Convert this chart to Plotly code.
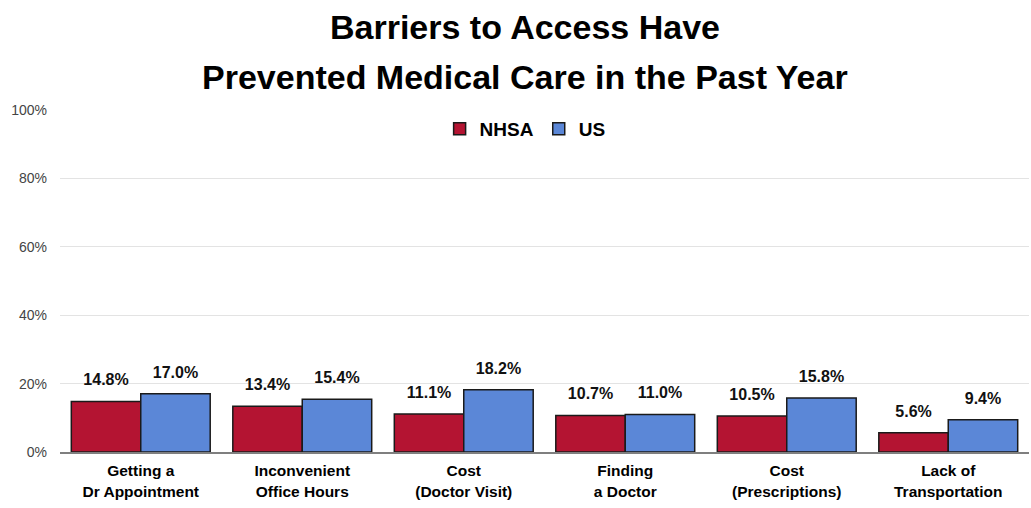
import plotly.graph_objects as go

categories = ["Getting a<br>Dr Appointment", "Inconvenient<br>Office Hours", "Cost<br>(Doctor Visit)",
              "Finding<br>a Doctor", "Cost<br>(Prescriptions)", "Lack of<br>Transportation"]
nhsa = [14.8, 13.4, 11.1, 10.7, 10.5, 5.6]
us = [17.0, 15.4, 18.2, 11.0, 15.8, 9.4]
tick_vals = [0, 20, 40, 60, 80, 100]
tick_text = ["0%", "20%", "40%", "60%", "80%", "100%"]
title_lines = ["Barriers to Access Have", "Prevented Medical Care in the Past Year"]

FONT = "Liberation Sans, Arial, sans-serif"
W, H = 1031, 508
ML, MR, MT, MB = 60, 2, 110, 56
PH = H - MT - MB
PW = W - ML - MR

fig = go.Figure()
series = [("NHSA", nhsa, "#B41432"), ("US", us, "#5B87D7")]
for name, vals, color in series:
    fig.add_trace(go.Bar(
        name=f"<b>{name}</b>", x=categories, y=vals, offsetgroup=name,
        marker=dict(color=color, line=dict(color="#1a1a1a", width=1.5)),
    ))
for name, vals, color in series:
    fig.add_trace(go.Scatter(
        x=categories, y=vals, offsetgroup=name, mode="markers+text",
        marker=dict(size=18, opacity=0, color=color),
        text=[f"<b>{v:.1f}%</b>" for v in vals], textposition="top center",
        textfont=dict(family=FONT, size=16, color="#111"),
        showlegend=False, hoverinfo="skip", cliponaxis=False,
    ))

def py(px):
    return 1 + (MT - px) / PH

def pxx(px):
    return (px - ML) / PW

for line, ypx in zip(title_lines, [27, 77]):
    fig.add_annotation(text=f"<b>{line}</b>", xref="paper", yref="paper",
                       x=pxx(525), y=py(ypx), xanchor="center", yanchor="middle",
                       showarrow=False,
                       font=dict(family=FONT, size=34, color="black"))

fig.update_layout(
    width=W, height=H,
    margin=dict(l=ML, r=MR, t=MT, b=MB),
    paper_bgcolor="white", plot_bgcolor="white",
    barmode="group", bargap=0.14, bargroupgap=0,
    scattermode="group", scattergap=0.14,
    legend=dict(orientation="h", x=0.48, xanchor="center", y=py(110), yanchor="top",
                font=dict(family=FONT, size=19, color="black"),
                bgcolor="rgba(0,0,0,0)", itemwidth=30),
    showlegend=True,
)

fig.update_yaxes(range=[0, 100], tickvals=tick_vals, ticktext=tick_text,
                 showgrid=True, gridcolor="#e3e3e3", gridwidth=1,
                 zeroline=False, showline=False, ticklabelstandoff=12,
                 tickfont=dict(family=FONT, size=14, color="#444"), ticks="")
fig.update_xaxes(showline=True, linecolor="#7f7f7f", linewidth=1.5,
                 tickvals=categories, ticktext=[f"<b>{c}</b>" for c in categories],
                 tickfont=dict(family=FONT, size=15.5, color="black"), ticks="",
                 ticklabelstandoff=4)

fig.write_html("out.html", config={"displayModeBar": False},
               post_script="document.body.style.margin='0px';")
